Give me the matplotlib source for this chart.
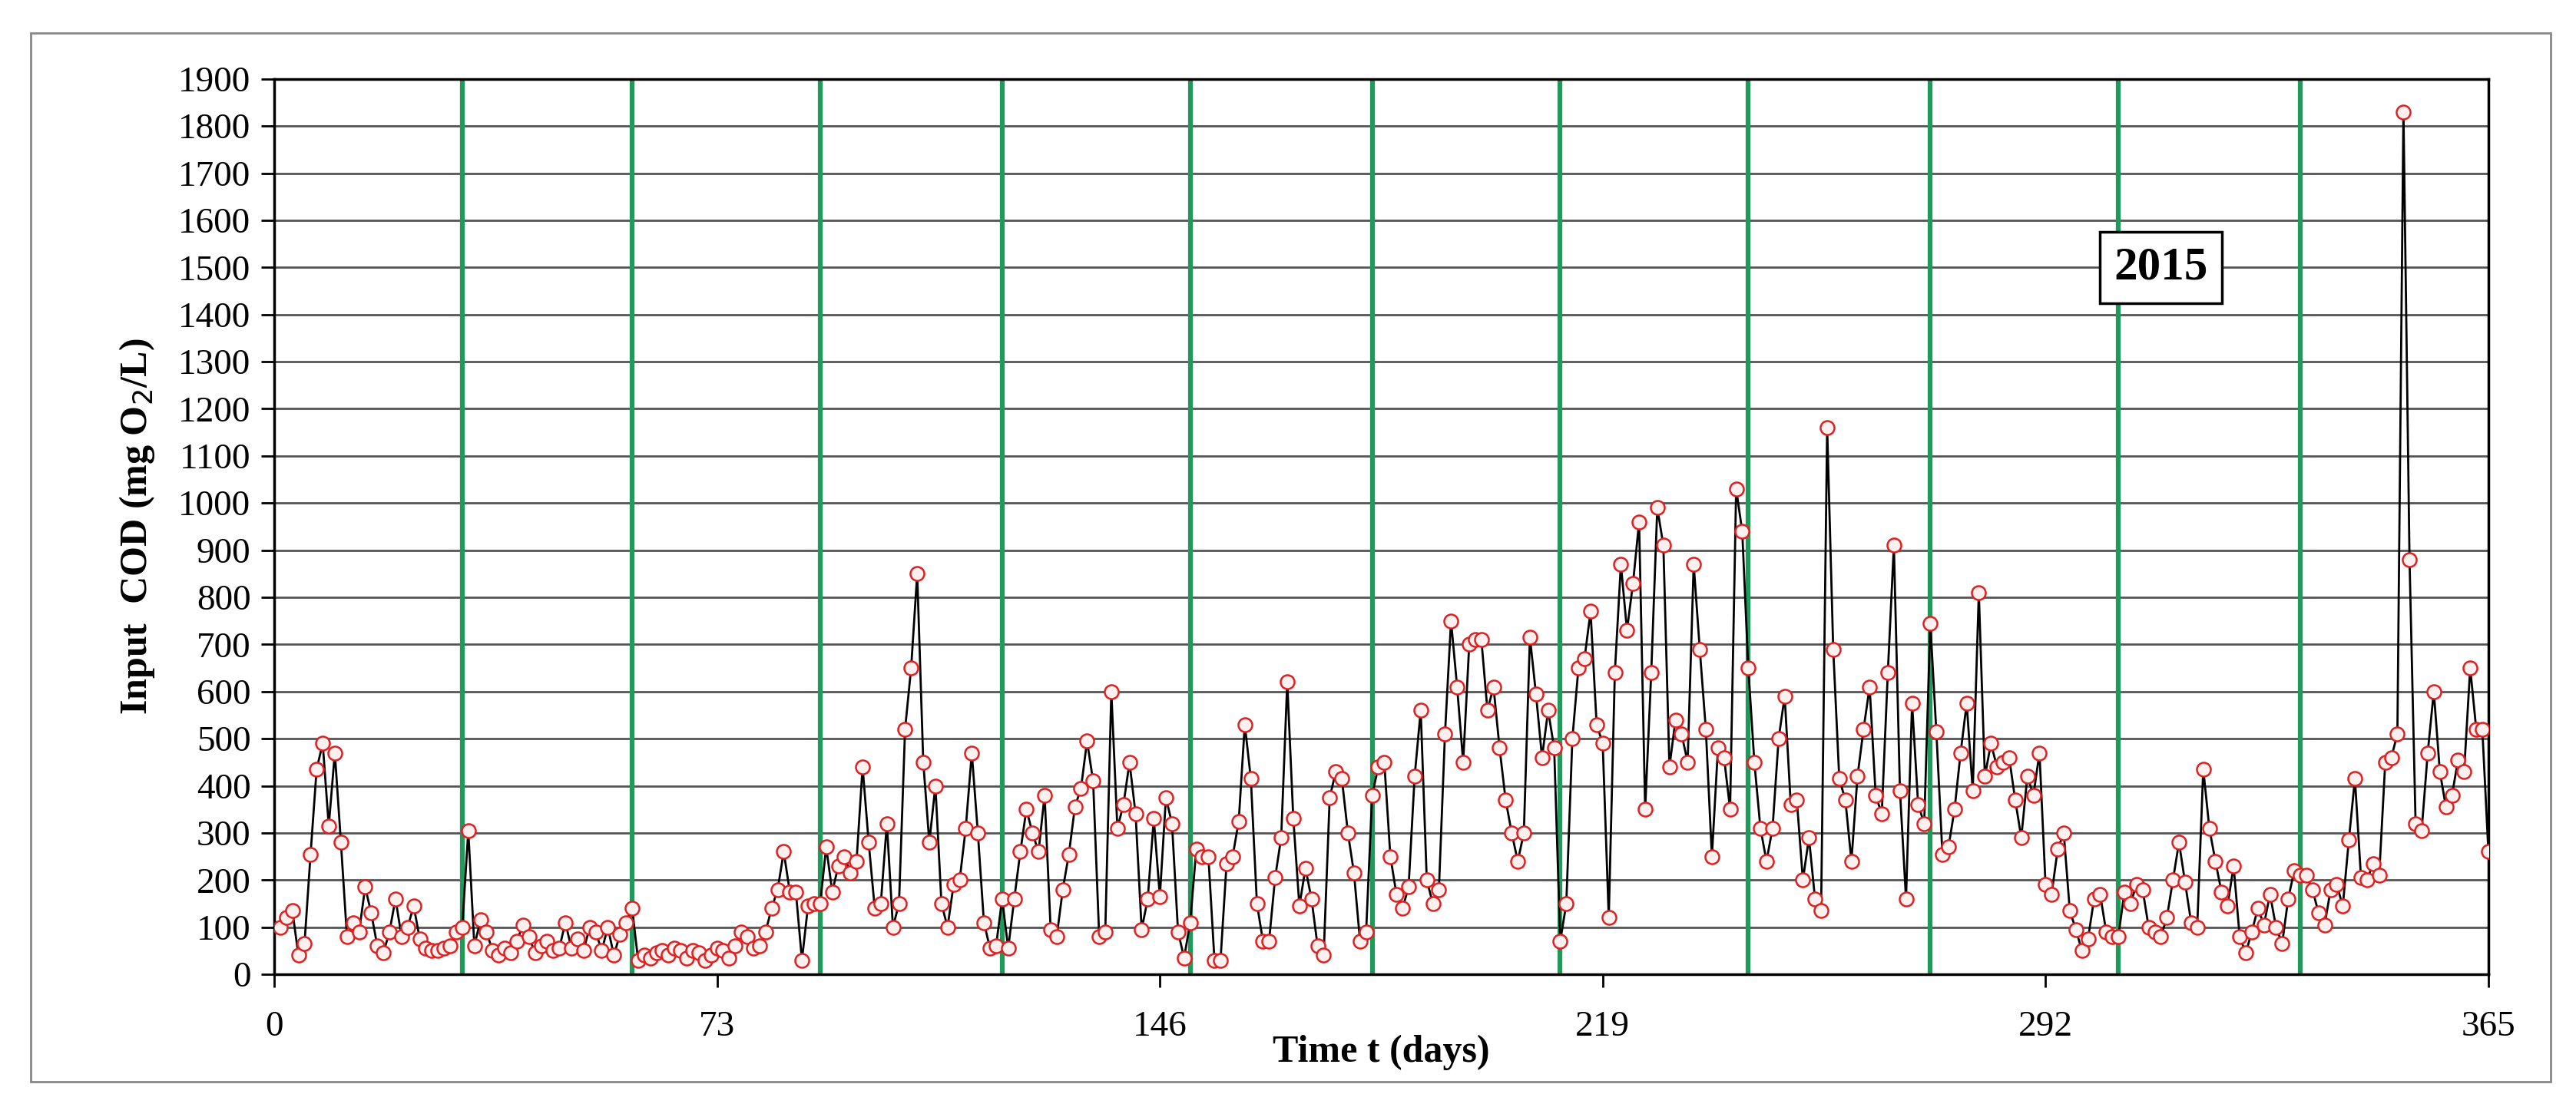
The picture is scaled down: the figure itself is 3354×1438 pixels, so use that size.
import numpy as np
import matplotlib
matplotlib.use("Agg")
import matplotlib.pyplot as plt
from matplotlib.patches import Rectangle

jan = [100,120,135,40,65,255,435,490,315,470,280,80,110,90,185,130,60,45,90,160,80,100,145,75,55,50,50,55,60,90,100]
feb = [305,60,115,90,50,40,55,45,70,105,80,45,60,70,50,55,110,55,75,50,100,90,50,100,40,85,110,140]
mar = [30,40,35,45,50,40,55,50,35,50,45,30,40,55,50,35,60,90,80,55,60,90,140,180,260,175,175,30,145,150,150]
apr = [270,175,230,250,215,240,440,280,140,150,320,100,150,520,650,850,450,280,400,150,100,190,200,310,470,300,110,55,60,160]
may = [55,160,260,350,300,260,380,95,80,180,255,355,395,495,410,80,90,600,310,360,450,340,95,160,330,165,375,320,90,35,110]
jun = [265,250,250,30,30,235,250,325,530,415,150,70,70,205,290,620,330,145,225,160,60,40,375,430,415,300,215,70,90,380]
jul = [440,450,250,170,140,185,420,560,200,150,180,510,750,610,450,700,710,710,560,610,480,370,300,240,300,715,595,460,560,480,70]
aug = [150,500,650,670,770,530,490,120,640,870,730,830,960,350,640,990,910,440,540,510,450,870,690,520,250,480,460,350,1030,940,650]
sep = [450,310,240,310,500,590,360,370,200,290,160,135,1160,690,415,370,240,420,520,610,380,340,640,910,390,160,575,360,320,745]
oct_ = [515,255,270,350,470,575,390,810,420,490,440,450,460,370,290,420,380,470,190,170,265,300,135,95,50,75,160,170,90,80,80]
nov = [175,150,190,180,100,90,80,120,200,280,195,110,100,435,310,240,175,145,230,80,45,90,140,105,170,100,65,160,220,210]
dec = [210,180,130,105,180,190,145,285,415,205,200,235,210,450,460,510,1830,880,320,305,470,600,430,355,380,455,430,650,520,520,260]
cod = jan + feb + mar + apr + may + jun + jul + aug + sep + oct_ + nov + dec
days = np.arange(1, len(cod) + 1)
month_bounds = [31, 59, 90, 120, 151, 181, 212, 243, 273, 304, 334]
xticks = [0, 73, 146, 219, 292, 365]
yticks = list(range(0, 2000, 100))

plt.rcParams['font.family'] = ['Liberation Serif', 'DejaVu Serif']
fig = plt.figure(figsize=(33.55, 14.38), dpi=100)
fig.patches.append(Rectangle((0.012, 0.02), 0.978, 0.95, transform=fig.transFigure,
                             fill=False, edgecolor='#888888', lw=2))
ax = fig.add_axes([0.1064, 0.1175, 0.8593, 0.811])
for y in yticks:
    ax.axhline(y, color='#555555', lw=2, zorder=1)
for b in month_bounds:
    ax.axvline(b, color='#1f9a5a', lw=4.5, zorder=2)
ax.plot(days, cod, color='black', lw=2, zorder=3)
ax.plot(days, cod, linestyle='none', marker='o', ms=13, mfc='#fff0f0', mec='#e02020', mew=1.8, zorder=4)
ax.set_xlim(0, 365)
ax.set_ylim(0, 1900)
ax.set_xticks(xticks)
ax.set_yticks(yticks)
ax.tick_params(axis='both', labelsize=34, length=12, width=2, direction='out', pad=10)
ax.tick_params(axis='x', pad=22)
for s in ax.spines.values():
    s.set_linewidth(2.5)
ax.set_xlabel('Time t (days)', fontsize=36, fontweight='bold', labelpad=-8)
ax.set_ylabel('Input  COD (mg O$_2$/L)', fontsize=36, fontweight='bold', labelpad=20)
ax.text(311, 1500, '2015', fontsize=44, fontweight='bold', ha='center', va='center', zorder=5,
        bbox=dict(boxstyle='square,pad=0.3', facecolor='white', edgecolor='black', lw=2.5))
fig.savefig('out.png', dpi=100)
